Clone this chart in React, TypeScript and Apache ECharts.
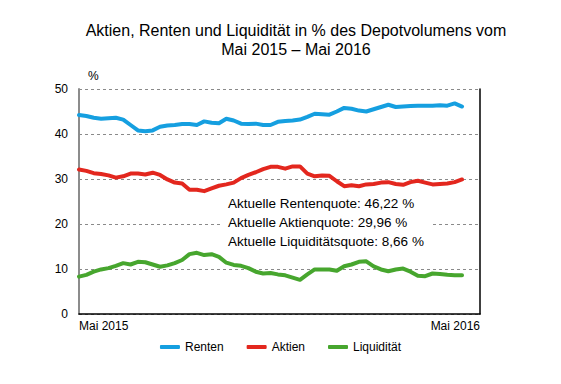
import React, { useEffect, useRef } from "react";
import * as echarts from "echarts";

const seriesNames = ["Renten", "Aktien", "Liquidität"];
const xLabels = ["Mai 2015", "Mai 2016"];
const yTicks = [0, 10, 20, 30, 40, 50];

const renten = [
  44.2, 44.0, 43.6, 43.4, 43.5, 43.6, 43.2, 42.0, 40.8, 40.6, 40.8, 41.6, 41.9, 42.0,
  42.2, 42.2, 42.0, 42.8, 42.5, 42.4, 43.4, 43.0, 42.3, 42.2, 42.3, 42.0, 42.0, 42.7,
  42.9, 43.0, 43.2, 43.8, 44.5, 44.4, 44.3, 45.0, 45.8, 45.6, 45.2, 45.0, 45.5, 46.0,
  46.5, 46.0, 46.1, 46.2, 46.3, 46.3, 46.3, 46.4, 46.3, 46.8, 46.1,
];
const aktien = [
  32.1, 31.8, 31.3, 31.1, 30.8, 30.3, 30.6, 31.2, 31.2, 31.0, 31.4, 30.9, 29.9, 29.2,
  29.0, 27.6, 27.6, 27.3, 27.9, 28.5, 28.8, 29.2, 30.2, 30.9, 31.5, 32.2, 32.7, 32.7,
  32.3, 32.8, 32.8, 31.2, 30.6, 30.8, 30.7, 29.5, 28.4, 28.6, 28.4, 28.8, 28.9, 29.2,
  29.3, 28.9, 28.7, 29.3, 29.6, 29.2, 28.8, 28.9, 29.0, 29.3, 29.9,
];
const liquiditaet = [
  8.3, 8.7, 9.4, 9.9, 10.2, 10.7, 11.3, 11.0, 11.6, 11.5, 11.0, 10.5, 10.8, 11.3,
  12.0, 13.3, 13.6, 13.1, 13.3, 12.7, 11.4, 10.9, 10.7, 10.2, 9.4, 9.0, 9.1, 8.8,
  8.6, 8.1, 7.6, 8.8, 9.9, 9.9, 9.9, 9.6, 10.6, 11.0, 11.6, 11.7, 10.6, 9.9,
  9.5, 9.9, 10.1, 9.4, 8.5, 8.4, 9.0, 8.9, 8.7, 8.6, 8.6,
];
const annotations = [
  "Aktuelle Rentenquote: 46,22 %",
  "Aktuelle Aktienquote: 29,96 %",
  "Aktuelle Liquiditätsquote: 8,66 %",
];
const colors = ["#159fe0", "#e3271e", "#47a62e"];

const FONT = "'Liberation Sans', Arial, sans-serif";
const X_MAX = 54.44;

export default function App() {
  const ref = useRef<HTMLDivElement>(null);
  useEffect(() => {
    if (!ref.current) return;
    const chart = echarts.init(ref.current, null, { renderer: "svg" });
    const toPairs = (arr: number[]) => arr.map((v, i) => [i, v]);
    const all = [renten, aktien, liquiditaet];
    chart.setOption({
      animation: false,
      backgroundColor: "#ffffff",
      textStyle: { fontFamily: FONT },
      title: {
        text: "Aktien, Renten und Liquidität in % des Depotvolumens vom\nMai 2015 – Mai 2016",
        left: 291,
        top: 16,
        textAlign: "center",
        textStyle: {
          fontFamily: FONT,
          fontSize: 16,
          fontWeight: "normal",
          color: "#000",
          lineHeight: 19,
        },
      },
      legend: {
        data: seriesNames,
        bottom: 26,
        left: "center",
        icon: "roundRect",
        itemWidth: 20,
        itemHeight: 4,
        itemGap: 23,
        textStyle: { fontFamily: FONT, fontSize: 12, color: "#000" },
      },
      grid: { left: 79, right: 81, top: 89, bottom: 70, containLabel: false },
      xAxis: {
        type: "value",
        min: 0,
        max: X_MAX,
        interval: X_MAX,
        axisLine: { show: true, lineStyle: { color: "#000", width: 1.5 } },
        axisTick: { show: false },
        splitLine: { show: false },
        axisLabel: {
          color: "#000",
          fontSize: 12,
          fontFamily: FONT,
          margin: 6,
          showMinLabel: true,
          showMaxLabel: true,
          alignMinLabel: "left",
          alignMaxLabel: "right",
          formatter: (v: number) => (v === 0 ? xLabels[0] : xLabels[1]),
        },
      },
      yAxis: [
        {
          type: "value",
          min: yTicks[0],
          max: yTicks[yTicks.length - 1],
          interval: 10,
          name: "%",
          nameLocation: "end",
          nameGap: 7,
          nameTextStyle: { color: "#000", fontSize: 12, align: "left", padding: [0, 0, 0, 9], fontFamily: FONT },
          axisLine: { show: true, lineStyle: { color: "#8c8c8c", width: 2 } },
          axisTick: { show: false },
          axisLabel: { color: "#000", fontSize: 12, margin: 11, fontFamily: FONT },
          splitLine: { show: true, lineStyle: { color: "#8a8a8a", type: [3, 3], width: 1 } },
        },
        {
          type: "value",
          position: "right",
          min: 0,
          max: 50,
          interval: 10,
          axisLine: { show: true, lineStyle: { color: "#000", width: 1.5 } },
          axisTick: { show: false },
          axisLabel: { show: false },
          splitLine: { show: false },
        },
      ],
      series: seriesNames.map((name, k) => ({
        name,
        type: "line",
        data: toPairs(all[k]),
        showSymbol: false,
        symbol: "none",
        color: colors[k],
        lineStyle: { width: 4, color: colors[k], join: "round", cap: "round" },
        z: 3,
      })),
      graphic: [
        {
          type: "rect",
          z: 50,
          zlevel: 0,
          shape: { x: 221, y: 193, width: 212, height: 58 },
          style: { fill: "#ffffff", stroke: "none" },
        },
        ...annotations.map((t, i) => ({
          type: "text",
          z: 51,
          x: 228,
          y: 203 + i * 19,
          style: {
            text: t,
            fill: "#000",
            fontSize: 13.5,
            fontFamily: FONT,
            verticalAlign: "middle",
          },
        })),
      ],
    });
    return () => chart.dispose();
  }, []);
  return (
    <div
      ref={ref}
      style={{ position: "absolute", left: 0, top: 0, width: 561, height: 384 }}
    />
  );
}
